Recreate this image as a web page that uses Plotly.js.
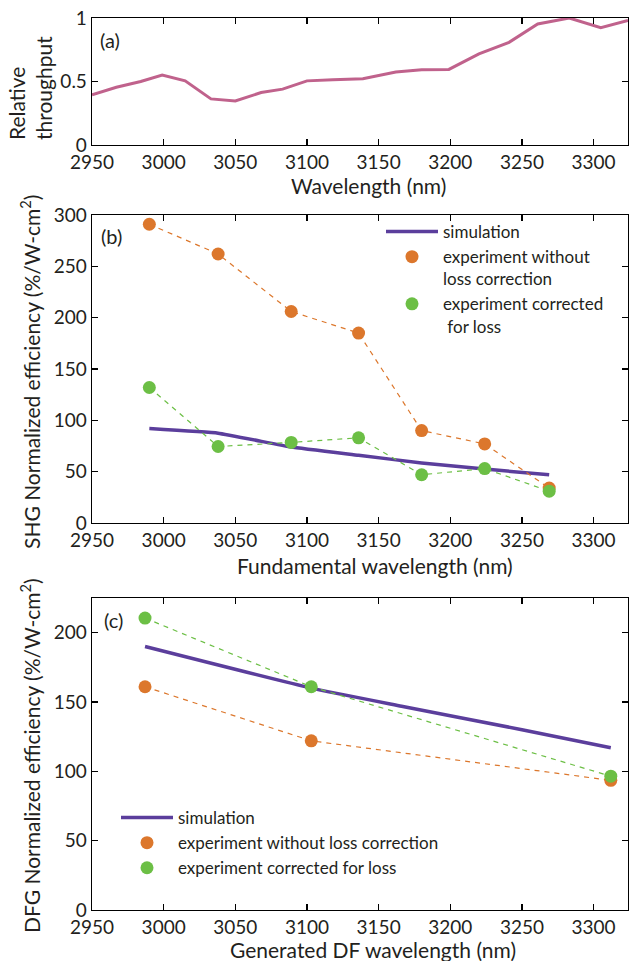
<!DOCTYPE html>
<html>
<head>
<meta charset="utf-8">
<script src="https://cdn.plot.ly/plotly-3.0.1.min.js"></script>
<style>html,body{margin:0;padding:0;background:#fff;}#chart{width:629px;height:961px;}</style>
</head>
<body>
<div id="chart"></div>
<script>
// ---- Panel (a): relative throughput ----
const wlA = [2950, 2967, 2984, 2999, 3015, 3033, 3050, 3068, 3083, 3100, 3118, 3139, 3162, 3180, 3199, 3220, 3241, 3261, 3283, 3305, 3324];
const throughput = [0.395, 0.455, 0.50, 0.55, 0.505, 0.363, 0.347, 0.413, 0.44, 0.505, 0.513, 0.521, 0.574, 0.592, 0.595, 0.718, 0.808, 0.953, 1.0, 0.924, 0.98];

// ---- Panel (b): SHG ----
const wlB = [2990, 3038, 3089, 3136, 3180, 3224, 3269];
const shgSim = [92, 87.5, 74, 66, 58.5, 52.5, 47];
const shgRaw = [291, 262, 206, 185, 90, 77, 34];
const shgCorr = [132, 74.5, 78.5, 83, 47, 53, 31];

// ---- Panel (c): DFG ----
const wlC = [2987, 3103, 3312];
const wlCSim = [2987, 3103, 3166, 3250, 3312];
const dfgSim = [190, 160, 147, 130, 117];
const dfgRaw = [161, 122, 93.5];
const dfgCorr = [210.5, 161, 96.5];

const xTicks = [2950, 3000, 3050, 3100, 3150, 3200, 3250, 3300];
const yTicksA = [0, 0.5, 1];
const yTicksB = [0, 50, 100, 150, 200, 250, 300];
const yTicksC = [0, 50, 100, 150, 200];

const legendNames = ['simulation', 'experiment without<br>loss correction', 'experiment corrected<br> for loss'];
const legendNamesC = ['simulation', 'experiment without loss correction', 'experiment corrected for loss'];

const C_MAUVE = '#c0628c', C_PURPLE = '#5b3e9c', C_ORANGE = '#dc772c', C_GREEN = '#6cbf45';
const TXT = '#231f20';
const FONT = 'Lato, "Open Sans", sans-serif';
const W = 629, H = 961;
const px = v => v / W, py = v => 1 - v / H;

const traces = [
  {x: wlA, y: throughput, xaxis: 'x', yaxis: 'y', mode: 'lines', line: {color: C_MAUVE, width: 3}, showlegend: false},
  // (b)
  {x: wlB, y: shgSim, xaxis: 'x2', yaxis: 'y2', mode: 'lines', line: {color: C_PURPLE, width: 3.5, shape: 'spline', smoothing: 0.3}, name: legendNames[0], legend: 'legend'},
  {x: wlB, y: shgRaw, xaxis: 'x2', yaxis: 'y2', mode: 'lines', line: {color: C_ORANGE, width: 1.2, dash: '5px,5px'}, showlegend: false},
  {x: wlB, y: shgCorr, xaxis: 'x2', yaxis: 'y2', mode: 'lines', line: {color: C_GREEN, width: 1.2, dash: '5px,5px'}, showlegend: false},
  {x: wlB, y: shgRaw, xaxis: 'x2', yaxis: 'y2', mode: 'markers', marker: {color: C_ORANGE, size: 13}, name: legendNames[1], legend: 'legend'},
  {x: wlB, y: shgCorr, xaxis: 'x2', yaxis: 'y2', mode: 'markers', marker: {color: C_GREEN, size: 13}, name: legendNames[2], legend: 'legend'},
  // (c)
  {x: wlCSim, y: dfgSim, xaxis: 'x3', yaxis: 'y3', mode: 'lines', line: {color: C_PURPLE, width: 3.5, shape: 'spline', smoothing: 0.4}, name: legendNamesC[0], legend: 'legend2'},
  {x: wlC, y: dfgRaw, xaxis: 'x3', yaxis: 'y3', mode: 'lines', line: {color: C_ORANGE, width: 1.2, dash: '5px,5px'}, showlegend: false},
  {x: wlC, y: dfgCorr, xaxis: 'x3', yaxis: 'y3', mode: 'lines', line: {color: C_GREEN, width: 1.2, dash: '5px,5px'}, showlegend: false},
  {x: wlC, y: dfgRaw, xaxis: 'x3', yaxis: 'y3', mode: 'markers', marker: {color: C_ORANGE, size: 13}, name: legendNamesC[1], legend: 'legend2'},
  {x: wlC, y: dfgCorr, xaxis: 'x3', yaxis: 'y3', mode: 'markers', marker: {color: C_GREEN, size: 13}, name: legendNamesC[2], legend: 'legend2'}
];

const tickFont = {size: 19, color: TXT, family: FONT};
function xax(anchor) {
  return {domain: [px(92), px(628)], anchor: anchor, range: [2950, 3324], tickvals: xTicks,
    ticks: 'inside', ticklen: 6, tickwidth: 1.2, tickcolor: '#000', showline: true, linecolor: '#000', linewidth: 1.3,
    mirror: 'ticks', showgrid: false, zeroline: false, tickfont: tickFont};
}
function yax(anchor, top, bottom, range, vals) {
  return {domain: [py(bottom), py(top)], anchor: anchor, range: range, tickvals: vals,
    ticks: 'inside', ticklen: 6, tickwidth: 1.2, tickcolor: '#000', showline: true, linecolor: '#000', linewidth: 1.3,
    mirror: 'ticks', showgrid: false, zeroline: false, tickfont: tickFont};
}

const tf = {size: 21, color: TXT, family: FONT};
const ann = (text, x, y, opts) => Object.assign({text: text, x: px(x), y: py(y), xref: 'paper', yref: 'paper', showarrow: false, font: tf, xanchor: 'center', yanchor: 'middle'}, opts || {});
const lf = {size: 17, color: TXT, family: FONT};

const layout = {
  width: W, height: H, margin: {l: 0, r: 0, t: 0, b: 0},
  paper_bgcolor: '#fff', plot_bgcolor: '#fff',
  font: {family: FONT, color: TXT},
  xaxis: xax('y'), yaxis: yax('x', 18, 145, [0, 1], yTicksA),
  xaxis2: xax('y2'), yaxis2: yax('x2', 215, 523, [0, 300], yTicksB),
  xaxis3: xax('y3'), yaxis3: yax('x3', 598, 910, [0, 225], yTicksC),
  legend: {x: px(381), y: py(214), xanchor: 'left', yanchor: 'top', valign: 'top', bgcolor: 'rgba(0,0,0,0)', font: lf, itemwidth: 52, tracegroupgap: 0},
  legend2: {x: px(116), y: py(800), xanchor: 'left', yanchor: 'top', bgcolor: 'rgba(0,0,0,0)', font: lf, itemwidth: 52, tracegroupgap: 0},
  annotations: [
    ann('(a)', 110, 40, {font: {size: 20, color: TXT, family: FONT}}),
    ann('(b)', 112, 236, {font: {size: 20, color: TXT, family: FONT}}),
    ann('(c)', 113, 620, {font: {size: 20, color: TXT, family: FONT}}),
    ann('Wavelength (nm)', 368, 185),
    ann('Fundamental wavelength (nm)', 375, 565),
    ann('Generated DF wavelength (nm)', 373, 949),
    ann('Relative<br>throughput', 30, 88, {textangle: -90, align: 'left'}),
    ann('SHG Normalized efficiency (%/W-cm<sup>2</sup>)', 30, 372, {textangle: -90}),
    ann('DFG Normalized efficiency (%/W-cm<sup>2</sup>)', 30, 756, {textangle: -90})
  ]
};

Plotly.newPlot('chart', traces, layout, {displayModeBar: false, staticPlot: true});
</script>
</body>
</html>
